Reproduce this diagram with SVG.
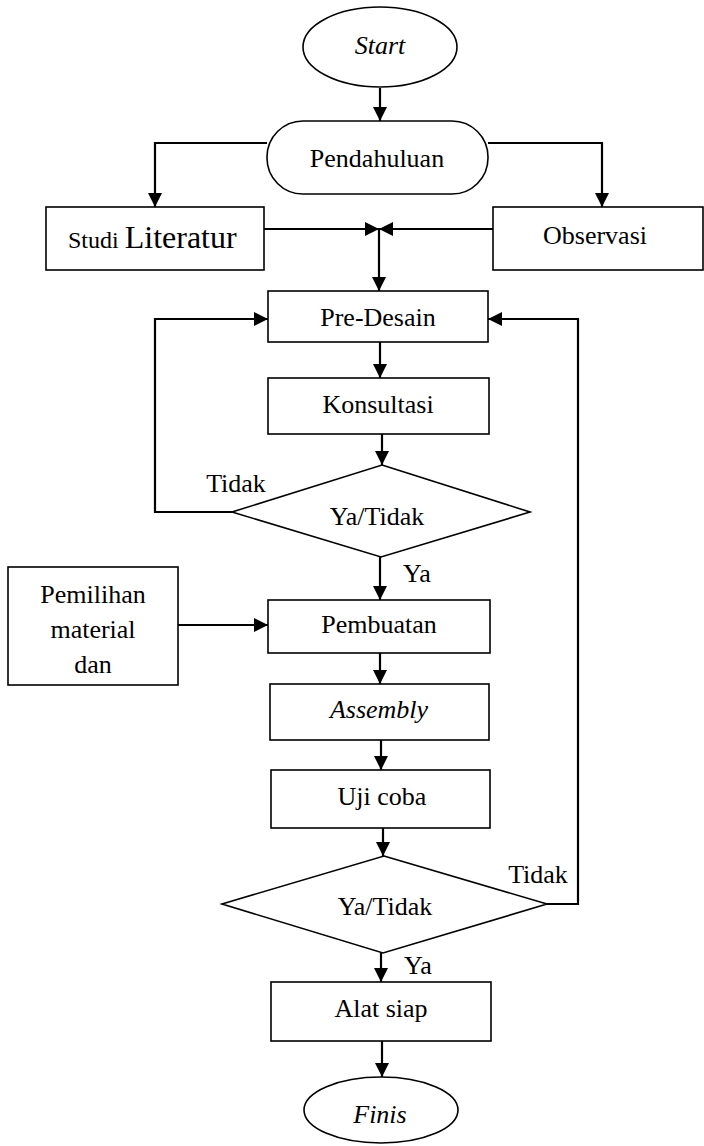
<svg xmlns="http://www.w3.org/2000/svg" width="704" height="1146" viewBox="0 0 704 1146">
<style>
.s{fill:#fff;stroke:#000;stroke-width:1.6}
.t{font-family:"Liberation Serif","Times New Roman",serif;font-size:26px;fill:#000;text-anchor:middle}
.i{font-style:italic}
.c{fill:none;stroke:#000;stroke-width:2.2}
</style>
<defs>
<marker id="a" markerUnits="userSpaceOnUse" markerWidth="14" markerHeight="14" refX="14" refY="7" orient="auto" viewBox="0 0 14 14">
<path d="M0,0 L14,7 L0,14 z" fill="#000"/>
</marker>
</defs>
<rect width="704" height="1146" fill="#fff"/>
<g id="connectors">
<path class="c" d="M380,88 V121" marker-end="url(#a)"/>
<path class="c" d="M267,143 H155 V207" marker-end="url(#a)"/>
<path class="c" d="M488,143 H602 V207" marker-end="url(#a)"/>
<path class="c" d="M264,229 H379" marker-end="url(#a)"/>
<path class="c" d="M493,229 H379" marker-end="url(#a)"/>
<path class="c" d="M379,229 V291" marker-end="url(#a)"/>
<path class="c" d="M380,342 V378" marker-end="url(#a)"/>
<path class="c" d="M382,434 V465" marker-end="url(#a)"/>
<path class="c" d="M232,512 H155 V319 H268" marker-end="url(#a)"/>
<path class="c" d="M380,557 V600" marker-end="url(#a)"/>
<path class="c" d="M178,625 H268" marker-end="url(#a)"/>
<path class="c" d="M380,653 V684" marker-end="url(#a)"/>
<path class="c" d="M381,740 V770" marker-end="url(#a)"/>
<path class="c" d="M383,828 V856" marker-end="url(#a)"/>
<path class="c" d="M547,904 H578 V319 H488" marker-end="url(#a)"/>
<path class="c" d="M381,953 V982" marker-end="url(#a)"/>
<path class="c" d="M382,1041 V1077" marker-end="url(#a)"/>
</g>
<g id="start"><ellipse class="s" cx="380" cy="47" rx="77" ry="40"/><text class="t i" x="380" y="54">Start</text></g>
<g id="pendahuluan"><rect class="s" x="267" y="121" width="221" height="73" rx="36" ry="36"/><text class="t" x="377" y="167">Pendahuluan</text></g>
<g id="studi"><rect class="s" x="46" y="207" width="218" height="63"/><text class="t" x="68" y="248" style="text-anchor:start"><tspan font-size="24">Studi </tspan><tspan font-size="32">Literatur</tspan></text></g>
<g id="observasi"><rect class="s" x="493" y="207" width="210" height="63"/><text class="t" x="595" y="244">Observasi</text></g>
<g id="predesain"><rect class="s" x="268" y="291" width="220" height="51"/><text class="t" x="378" y="326">Pre-Desain</text></g>
<g id="konsultasi"><rect class="s" x="268" y="378" width="221" height="56"/><text class="t" x="378" y="413">Konsultasi</text></g>
<g id="decision1"><polygon class="s" points="382,465 530,512 381,557 232,512"/><text class="t" x="377" y="525">Ya/Tidak</text></g>
<g id="label-tidak1"><text class="t" x="236" y="492">Tidak</text></g>
<g id="label-ya1"><text class="t" x="403" y="582" style="text-anchor:start">Ya</text></g>
<g id="pemilihan"><rect class="s" x="8" y="567" width="170" height="118"/><text class="t" x="93" y="603">Pemilihan</text><text class="t" x="93" y="638">material</text><text class="t" x="93" y="673">dan</text></g>
<g id="pembuatan"><rect class="s" x="268" y="600" width="222" height="53"/><text class="t" x="379" y="633">Pembuatan</text></g>
<g id="assembly"><rect class="s" x="270" y="684" width="219" height="56"/><text class="t i" x="379" y="718">Assembly</text></g>
<g id="ujicoba"><rect class="s" x="271" y="770" width="219" height="58"/><text class="t" x="382" y="805">Uji coba</text></g>
<g id="decision2"><polygon class="s" points="384,856 547,904 383,953 222,904"/><text class="t" x="385" y="915">Ya/Tidak</text></g>
<g id="label-tidak2"><text class="t" x="538" y="883">Tidak</text></g>
<g id="label-ya2"><text class="t" x="404" y="974" style="text-anchor:start">Ya</text></g>
<g id="alatsiap"><rect class="s" x="271" y="982" width="220" height="59"/><text class="t" x="381" y="1017">Alat siap</text></g>
<g id="finis"><ellipse class="s" cx="381" cy="1110" rx="77" ry="33"/><text class="t i" x="380" y="1123">Finis</text></g>
</svg>
